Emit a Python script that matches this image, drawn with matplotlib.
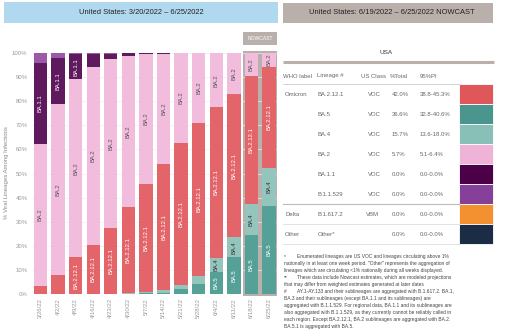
import matplotlib.pyplot as plt
from matplotlib.patches import Rectangle

plt.rcParams['font.family'] = ['Liberation Sans', 'DejaVu Sans']

# ----------------- weekly lineage shares (%) -----------------
weeks = ['3/26/22', '4/2/22', '4/9/22', '4/16/22', '4/23/22', '4/30/22', '5/7/22',
         '5/14/22', '5/21/22', '5/28/22', '6/4/22', '6/11/22', '6/18/22', '6/25/22']
ba5 = [0, 0, 0, 0, 0, 0.2, 0.5, 0.6, 1.9, 4.0, 9.3, 15.2, 24.5, 36.6]
ba4 = [0, 0, 0, 0, 0, 0.3, 0.5, 1.0, 1.8, 3.5, 5.8, 8.3, 12.8, 15.7]
ba2121 = [3.5, 7.9, 15.2, 20.3, 27.3, 35.7, 44.6, 52.3, 59.1, 63.6, 62.4, 59.4, 53.2, 42.0]
ba2 = [58.7, 70.8, 73.9, 74.0, 70.1, 62.6, 53.9, 45.8, 37.0, 28.7, 22.3, 16.9, 9.5, 5.7]
ba11 = [33.8, 19.1, 10.4, 5.3, 2.3, 1.0, 0.3, 0.1, 0, 0, 0, 0, 0, 0]
b11529 = [3.8, 2.1, 0.4, 0.3, 0.2, 0.1, 0.1, 0.1, 0, 0, 0, 0, 0, 0]
delta = [0.1, 0, 0, 0, 0, 0, 0, 0, 0, 0, 0, 0, 0, 0]
other = [0.1, 0.1, 0.1, 0.1, 0.1, 0.1, 0.1, 0.1, 0.2, 0.2, 0.2, 0.2, 0, 0]

# stacking order bottom -> top: (name, values, bar colour, label colour)
stack = [
    ('BA.5', ba5, '#55a198', 'white'),
    ('BA.4', ba4, '#93c5bd', '#333333'),
    ('BA.2.12.1', ba2121, '#e3656a', 'white'),
    ('BA.2', ba2, '#f2bcdd', '#555555'),
    ('BA.1.1', ba11, '#5e1a5d', 'white'),
    ('B.1.1.529', b11529, '#9a5aa8', 'white'),
    ('B.1.617.2', delta, '#f39030', 'white'),
    ('Other', other, '#1b2d45', 'white'),
]

# ----------------- nowcast table -----------------
who_labels = ['Omicron', '', '', '', '', '', 'Delta', 'Other']
lineages = ['BA.2.12.1', 'BA.5', 'BA.4', 'BA.2', 'BA.1.1', 'B.1.1.529', 'B.1.617.2', 'Other*']
us_class = ['VOC', 'VOC', 'VOC', 'VOC', 'VOC', 'VOC', 'VBM', '']
pct_total = ['42.0%', '36.6%', '15.7%', '5.7%', '0.0%', '0.0%', '0.0%', '0.0%']
pi95 = ['38.8-45.3%', '32.8-40.6%', '13.6-18.0%', '5.1-6.4%', '0.0-0.0%', '0.0-0.0%',
        '0.0-0.0%', '0.0-0.0%']
swatches = ['#e0575b', '#4a968f', '#88bfb6', '#f0b3d8', '#4b0047', '#87409a', '#f39030', '#1b2d45']

footnotes = [
    ('*', 'Enumerated lineages are US VOC and lineages circulating above 1%'),
    ('', 'nationally in at least one week period. "Other" represents the aggregation of'),
    ('', 'lineages which are circulating <1% nationally during all weeks displayed.'),
    ('**', 'These data include Nowcast estimates, which are modeled projections'),
    ('', 'that may differ from weighted estimates generated at later dates'),
    ('#', 'AY.1-AY.133 and their sublineages are aggregated with B.1.617.2. BA.1,'),
    ('', 'BA.3 and their sublineages (except BA.1.1 and its sublineages) are'),
    ('', 'aggregated with B.1.1.529. For regional data, BA.1.1 and its sublineages are'),
    ('', 'also aggregated with B.1.1.529, as they currently cannot be reliably called in'),
    ('', 'each region. Except BA.2.12.1, BA.2 sublineages are aggregated with BA.2.'),
    ('', 'BA.5.1 is aggregated with BA.5.'),
]

W, H = 511, 331
fig = plt.figure(figsize=(W / 100, H / 100), dpi=100)

# background layer in pixel coordinates for headers, nowcast box and table
bg = fig.add_axes([0, 0, 1, 1], zorder=0)
bg.set_xlim(0, W)
bg.set_ylim(H, 0)
bg.axis('off')

bg.add_patch(Rectangle((4, 2), 274, 21, color='#b0d8ee', lw=0))
bg.text(141, 12.5, 'United States: 3/20/2022 \u2013 6/25/2022', ha='center', va='center',
        fontsize=5.4, color='#222222')
bg.add_patch(Rectangle((283, 3), 210, 20, color='#b9b0ac', lw=0))
bg.text(392, 13, 'United States: 6/19/2022 \u2013 6/25/2022 NOWCAST', ha='center', va='center',
        fontsize=5.4, color='#222222')

# nowcast highlight behind the last two weeks
bg.add_patch(Rectangle((243, 32), 34, 13, color='#b9b0ac', lw=0))
bg.text(260, 38.5, 'NOWCAST', ha='center', va='center', fontsize=3.6, color='white')
bg.add_patch(Rectangle((243, 51), 34, 245, color='#b9b0ac', lw=0))

# ----------------- stacked bars -----------------
ax = fig.add_axes([31.7 / W, (H - 294) / H, 246.1 / W, 241 / H], zorder=1)
ax.patch.set_alpha(0)
x = list(range(len(weeks)))
px_per_pct = 2.41
bottom = [0.0] * len(weeks)
for name, vals, color, txt_color in stack:
    ax.bar(x, vals, width=0.76, bottom=bottom, color=color, lw=0, zorder=2)
    for i, v in enumerate(vals):
        # only label segments tall enough to hold the rotated name
        if v * px_per_pct >= len(name) * 2.6:
            ax.text(i, bottom[i] + v / 2, name, rotation=90, ha='center', va='center',
                    fontsize=4.2, color=txt_color, zorder=3)
    bottom = [b + v for b, v in zip(bottom, vals)]

ax.set_xlim(-0.5, len(weeks) - 0.5)
ax.set_ylim(0, 100)
ax.set_yticks(range(0, 101, 10))
ax.set_yticklabels([f'{t}%' for t in range(0, 101, 10)])
ax.set_xticks(x)
ax.set_xticklabels(weeks, rotation=90)
ax.tick_params(length=0, labelsize=4.3, labelcolor='#999999', pad=3)
ax.grid(axis='y', color='#eeeeee', lw=0.5, zorder=0)
for s in ax.spines.values():
    s.set_visible(False)
bg.text(7, 173, '% Viral Lineages Among Infections', rotation=90, ha='center', va='center',
        fontsize=4.3, color='#888888')

# ----------------- nowcast table -----------------
bg.text(386, 53, 'USA', ha='center', va='center', fontsize=4.6, color='#333333')
bg.plot([283, 494], [62, 62], color='#b9b0ac', lw=2.2, solid_capstyle='butt')
cols = [283, 317, 361, 390, 420]
headers = ['WHO label', 'Lineage #', 'US Class', '%Total', '95%PI']
for cx, h in zip(cols, headers):
    bg.text(cx, 76, h, ha='left', va='center', fontsize=4.3, color='#666666')
bg.plot([283, 459], [84, 84], color='#cccccc', lw=0.6)

row_top = 84
for r in range(len(lineages)):
    cy = row_top + 20 * r + 10
    bg.text(285, cy, who_labels[r], ha='left', va='center', fontsize=4.3, color='#666666')
    bg.text(318, cy, lineages[r], ha='left', va='center', fontsize=4.3, color='#666666')
    bg.text(368 if us_class[r] == 'VOC' else 366, cy, us_class[r], ha='left', va='center',
            fontsize=4.3, color='#666666')
    bg.text(392, cy, pct_total[r], ha='left', va='center', fontsize=4.3, color='#666666')
    bg.text(420, cy, pi95[r], ha='left', va='center', fontsize=4.3, color='#666666')
    bg.add_patch(Rectangle((459, row_top + 20 * r), 34, 20, facecolor=swatches[r],
                           edgecolor='white', lw=0.6))
bg.plot([283, 459], [203.5, 203.5], color='#bbbbbb', lw=0.8)
bg.plot([283, 459], [223.5, 223.5], color='#dddddd', lw=0.6)
bg.plot([283, 459], [243.5, 243.5], color='#dddddd', lw=0.6)

# ----------------- footnotes -----------------
for k, (mark, line) in enumerate(footnotes):
    fy = 256.8 + 7.0 * k
    if mark:
        bg.text(284, fy, mark, ha='left', va='center', fontsize=3.55, color='#444444')
        bg.text(297, fy, line, ha='left', va='center', fontsize=3.55, color='#444444')
    else:
        bg.text(284, fy, line, ha='left', va='center', fontsize=3.55, color='#444444')

fig.savefig('out.png', dpi=100)
